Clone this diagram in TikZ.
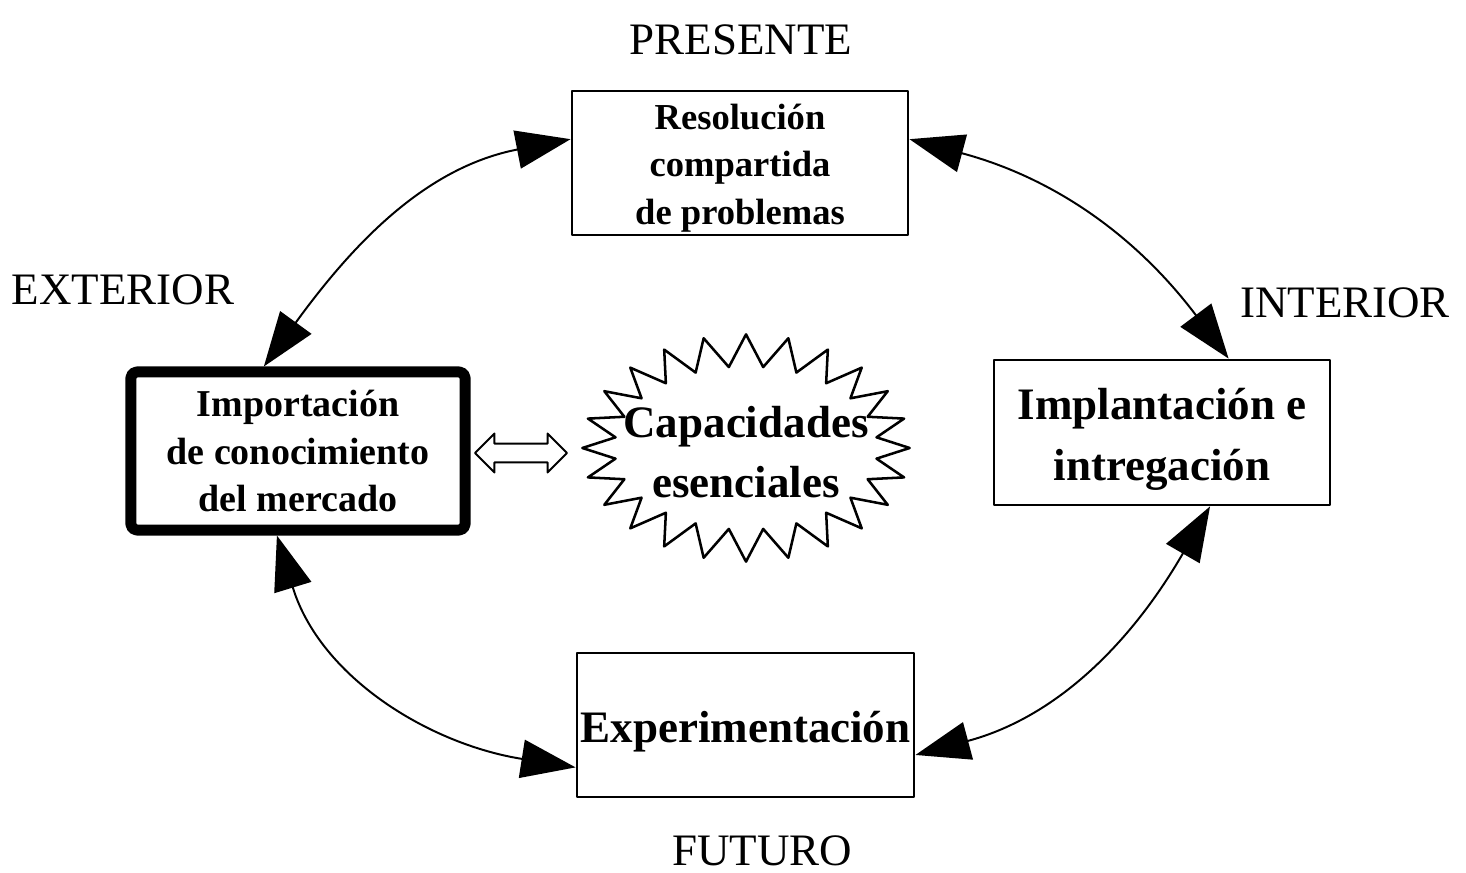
\documentclass[tikz,border=0pt]{standalone}
\usepackage{fontspec}
\setmainfont{Liberation Serif}
\usetikzlibrary{arrows.meta,shapes.symbols,shapes.arrows}
\tikzset{
	caja/.style={draw, line width=1pt, minimum width=4.2cm, minimum height=1.8cm, align=center, inner sep=0pt},
	etiqueta/.style={font=\fontsize{16}{19}\selectfont},
	ciclo/.style={{Triangle[length=0.68cm,width=0.48cm]}-{Triangle[length=0.68cm,width=0.48cm]}, line width=0.7pt}
}
\begin{document}
\begin{tikzpicture}[x=0.0125cm, y=0.0125cm, line join=round, line cap=round]
	\useasboundingbox (0,0) rectangle (1466,-873);
	% cajas
	\node[caja, font=\fontsize{13}{17}\selectfont\bfseries] (res) at (740,-163) {\rule{0pt}{12.7pt}Resoluci\'on\\compartida\\de problemas};
	\node[caja, line width=3.9pt, rounded corners=2pt, minimum width=4.175cm, minimum height=1.975cm,
		font=\fontsize{13.5}{17}\selectfont\bfseries] (imp) at (298,-451) {Importaci\'on\\de conocimiento\\del mercado};
	\node[caja, minimum height=1.8125cm, font=\fontsize{16}{21.6}\selectfont\bfseries] (impl) at (1162,-432.5) {\rule{0pt}{16pt}Implantaci\'on e\\intregaci\'on};
	\node[caja, minimum width=4.2125cm, font=\fontsize{16}{21.6}\selectfont\bfseries] (expe) at (745.5,-725) {\rule{0pt}{16pt}Experimentaci\'on};
	\node[starburst, draw, line width=0.9pt, starburst points=24, random starburst=0, starburst point height=0.4cm,
		minimum width=4.09cm, minimum height=2.84cm, inner xsep=-1cm, inner ysep=0pt, align=center,
		font=\fontsize{16}{21.6}\selectfont\bfseries] (cap) at (746,-448) {\rule{0pt}{14pt}Capacidades\\esenciales};
	\node[double arrow, draw, line width=0.7pt, minimum height=1.15cm, inner sep=0.106cm,
		double arrow head extend=0.125cm] (flecha) at (521,-453) {};
	% etiquetas
	\node[etiqueta] (presente) at (741,-40) {PRESENTE};
	\node[etiqueta] (exterior) at (123,-290) {EXTERIOR};
	\node[etiqueta] (interior) at (1345,-303) {INTERIOR};
	\node[etiqueta] (futuro) at (762,-851) {FUTURO};
	% flechas del ciclo
	\draw[ciclo] (res.172) to[out=191, in=54] (imp.112);
	\draw[ciclo] (res.8) to[out=-15, in=127] (impl.48);
	\draw[ciclo] (impl.303) to[out=240, in=15] (expe.350);
	\draw[ciclo] (imp.256) to[out=-73, in=171] (expe.194);
\end{tikzpicture}
\end{document}
